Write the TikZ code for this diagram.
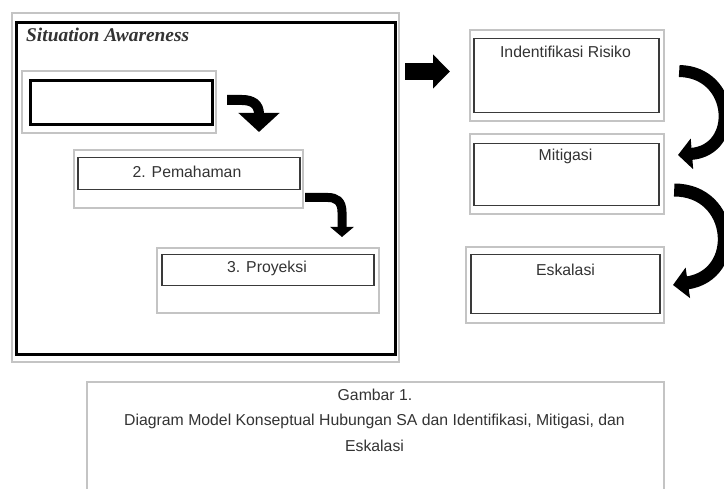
\documentclass[tikz,border=0pt]{standalone}
\usepackage{fontspec}
\setmainfont{Liberation Sans}
\newfontfamily\titlefont{Liberation Serif}
\usetikzlibrary{arrows.meta}
\definecolor{frame}{HTML}{C4C4C4}
\definecolor{ink}{HTML}{333333}
\definecolor{edge}{HTML}{3A3A3A}
\tikzset{
  grayframe/.style={draw=frame, line width=2.2pt, anchor=north west, inner sep=0pt, fill=white},
  innerbox/.style={draw=edge, line width=1.5pt, anchor=north west, inner sep=0pt},
  boldbox/.style={draw=black, line width=2.8pt, anchor=north west, inner sep=0pt},
  lbl/.style={text=ink, font=\fontsize{15.8}{18}\selectfont, inner sep=0pt, anchor=base},
  bigarrow/.style={draw=black, line cap=butt},
}
\begin{document}
\begin{tikzpicture}[x=1pt,y=-1pt]
\useasboundingbox (0,0) rectangle (724,489);
\fill[white] (0,0) rectangle (724,489);
% Situation Awareness frame
\node[grayframe, minimum width=387pt, minimum height=349pt] (sag) at (11,12) {};
\node[boldbox, line width=3pt, minimum width=379pt, minimum height=332pt] (sa) at (14.5,21) {};
\node[anchor=base west, inner sep=0pt, text=ink, font=\titlefont\bfseries\itshape\fontsize{19.4}{22}\selectfont] (sat) at (26,42) {Situation Awareness};
% box 1
\node[grayframe, minimum width=194pt, minimum height=62pt] (b1g) at (21,70) {};
\node[boldbox, minimum width=182pt, minimum height=44pt] (b1) at (29,79) {};
% box 2
\node[grayframe, minimum width=229pt, minimum height=58pt] (b2g) at (73,149) {};
\node[innerbox, minimum width=222pt, minimum height=32pt] (b2) at (77,157) {};
\node[lbl] (b2t) at (187,178) {2. Pemahaman};
% box 3
\node[grayframe, minimum width=222pt, minimum height=65pt] (b3g) at (156,247) {};
\node[innerbox, minimum width=212pt, minimum height=31pt] (b3) at (161,254) {};
\node[lbl] (b3t) at (267,273) {3. Proyeksi};
% right boxes
\node[grayframe, minimum width=194pt, minimum height=91pt] (irg) at (469,29) {};
\node[innerbox, minimum width=185pt, minimum height=74pt] (ir) at (473,38) {};
\node[lbl] (irt) at (565.5,58) {Indentifikasi Risiko};
\node[grayframe, minimum width=194pt, minimum height=80pt] (mig) at (469,133) {};
\node[innerbox, minimum width=185pt, minimum height=62pt] (mi) at (473,143) {};
\node[lbl] (mit) at (565.5,161) {Mitigasi};
\node[grayframe, minimum width=198pt, minimum height=76pt] (esg) at (465,246) {};
\node[innerbox, minimum width=189pt, minimum height=59pt] (es) at (470,254) {};
\node[lbl] (est) at (565.5,276) {Eskalasi};
% caption
\node[grayframe, line width=2pt, minimum width=577pt, minimum height=130pt] (cap) at (86,381) {};
\node[lbl] (cap1) at (375,401) {Gambar 1.};
\node[lbl] (cap2) at (374.5,426) {Diagram Model Konseptual Hubungan SA dan Identifikasi, Mitigasi, dan};
\node[lbl] (cap3) at (374.5,452) {Eskalasi};
% arrows
\coordinate (a0s) at (sag.east |- 0,71.5);
\coordinate (a0e) at (irg.west |- 0,71.5);
\draw[bigarrow, line width=17pt, -{Triangle[length=17pt,width=33pt]}] ([xshift=5pt]a0s) -- ([xshift=-19pt]a0e);
\coordinate (a1s) at (b1g.east |- 0,100);
\coordinate (a1e) at (259,132);
\draw[bigarrow, line width=10pt, -{Triangle[length=19pt,width=40pt]}] ([xshift=10pt]a1s) -- (242,100) .. controls (252,100) and (259,104) .. (a1e);
\coordinate (a2s) at (b2g.east |- 0,197.5);
\coordinate (a2e) at (342,237);
\draw[bigarrow, line width=9pt, -{Triangle[length=10pt,width=23pt]}] ([xshift=1pt]a2s) -- (328,197.5) .. controls (336,197.5) and (342,201) .. (342,212) -- (a2e);
\coordinate (a3s) at ([xshift=14pt]irg.east |- 0,71);
\coordinate (a3e) at (678,155);
\draw[bigarrow, line width=12pt, -{Triangle[length=14pt,width=30pt]}] (a3s) .. controls (735,72) and (740,150) .. (a3e);
\coordinate (a4s) at ([xshift=9pt]mig.east |- 0,190);
\coordinate (a4e) at (673,285);
\draw[bigarrow, line width=13pt, -{Triangle[length=15pt,width=30pt]}] (a4s) .. controls (735,190) and (742,275) .. (a4e);
\end{tikzpicture}
\end{document}
